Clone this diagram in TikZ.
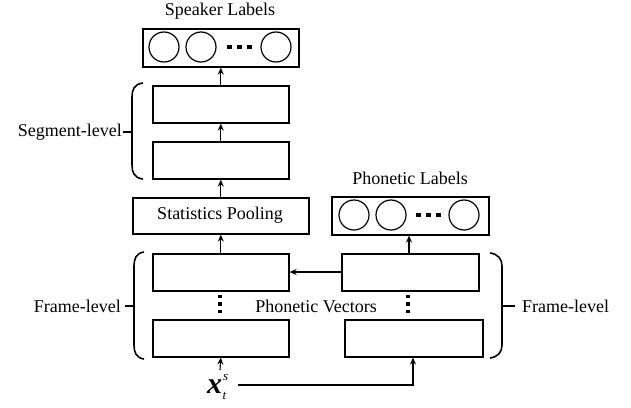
\documentclass[tikz,border=0pt]{standalone}
\usepackage{fontspec}
\setmainfont{Liberation Serif}
\usetikzlibrary{arrows.meta}
\begin{document}
\begin{tikzpicture}[x=1pt,y=-1pt,
  box/.style={draw,line width=1.6pt,inner sep=0pt,anchor=north west},
  lab/.style={inner sep=0pt,font=\fontsize{18}{20}\selectfont},
  arr/.style={line width=1.1pt,-{Stealth[length=7pt,width=6pt]}},
  brc/.style={line width=1.6pt},
  circ/.style={draw,circle,line width=1.2pt,minimum size=30pt,inner sep=0pt},
  sq/.style={fill,inner sep=0pt,minimum size=4.2pt}]
\useasboundingbox (0,0) rectangle (631,407);
% texts
\node[lab] (spk) at (220,11) {Speaker Labels};
\node[lab] (phl) at (410,178) {Phonetic Labels};
% speaker output
\node[box,minimum width=156pt,minimum height=38pt] (out) at (142,28) {};
\node[circ] (c1) at (164,47) {};
\node[circ] (c2) at (201,47) {};
\node[circ] (c3) at (276,47) {};
\node[sq] (d1) at (229.5,47) {};
\node[sq] (d2) at (239.5,47) {};
\node[sq] (d3) at (249.5,47) {};
% segment
\node[box,minimum width=136pt,minimum height=37pt] (seg1) at (152,85) {};
\node[box,minimum width=136pt,minimum height=37pt] (seg2) at (152,141) {};
% pooling
\node[box,minimum width=176pt,minimum height=36pt] (pool) at (132,197) {};
\node[lab] (poolt) at (220,215) {Statistics Pooling};
% frame left
\node[box,minimum width=136pt,minimum height=37pt] (fr1) at (152,253) {};
\node[box,minimum width=136pt,minimum height=37pt] (fr2) at (152,319) {};
\node[sq,minimum size=3.8pt] (v1) at (220,296.5) {};
\node[sq,minimum size=3.8pt] (v2) at (220,304) {};
\node[sq,minimum size=3.8pt] (v3) at (220,311.5) {};
% phonetic labels
\node[box,minimum width=157pt,minimum height=38pt] (pout) at (331,196) {};
\node[circ] (p1) at (354,215) {};
\node[circ] (p2) at (391,215) {};
\node[circ] (p3) at (464,215) {};
\node[sq] (e1) at (418.5,215) {};
\node[sq] (e2) at (428.5,215) {};
\node[sq] (e3) at (438.5,215) {};
% phonetic frame
\node[box,minimum width=137pt,minimum height=37pt] (ph1) at (341,253) {};
\node[box,minimum width=138pt,minimum height=37pt] (ph2) at (344,319) {};
\node[sq,minimum size=3.8pt] (w1) at (408,296.5) {};
\node[sq,minimum size=3.8pt] (w2) at (408,304) {};
\node[sq,minimum size=3.8pt] (w3) at (408,311.5) {};
\node[lab] (pv) at (316,306) {Phonetic Vectors};
% side labels
\node[lab,anchor=east] (segl) at (122,132) {Segment-level};
\node[lab,anchor=east] (frl) at (121,306) {Frame-level};
\node[lab,anchor=west] (frr) at (522,306) {Frame-level};
% input
\node[inner sep=0pt,anchor=base west] (xin) at (207,393) {{\fontsize{30}{30}\selectfont\bfseries\itshape x}\rlap{\raisebox{13pt}{\fontsize{13}{13}\selectfont\itshape\kern1pt s}}\raisebox{-6pt}{\fontsize{13}{13}\selectfont\itshape\kern0.5pt t}};
\coordinate (xe) at (238,385);
\coordinate (xn) at (220,370);
% braces
\draw[brc] (143,83) .. controls (134,84) and (132,90) .. (132,97) -- (132,165) .. controls (132,172) and (134,178) .. (143,179);
\draw[brc] (123,132) -- (132,132);
\draw[brc] (144,252) .. controls (136,253) and (134,259) .. (134,266) -- (134,345) .. controls (134,352) and (136,358) .. (144,359);
\draw[brc] (125,306) -- (134,306);
\draw[brc] (490,253) .. controls (498,254) and (502,259) .. (502,266) -- (502,345) .. controls (502,352) and (498,357) .. (490,358);
\draw[brc] (502,306) -- (515,306);
% arrows
\draw[arr] (seg1.north) -- (out.south);
\draw[arr] (seg2.north) -- (seg1.south);
\draw[arr] (pool.north) -- (seg2.south);
\draw[arr] (fr1.north) -- (pool.south);
\draw[arr] (xn) -- (fr2.south);
\draw[arr] (ph1.north -| 409,0) -- (pout.south -| 409,0);
\draw[arr] (ph1.west |- 0,272) -- (fr1.east |- 0,272);
\draw[arr] (xe) -| (ph2.south -| 413,0);
\end{tikzpicture}
\end{document}
